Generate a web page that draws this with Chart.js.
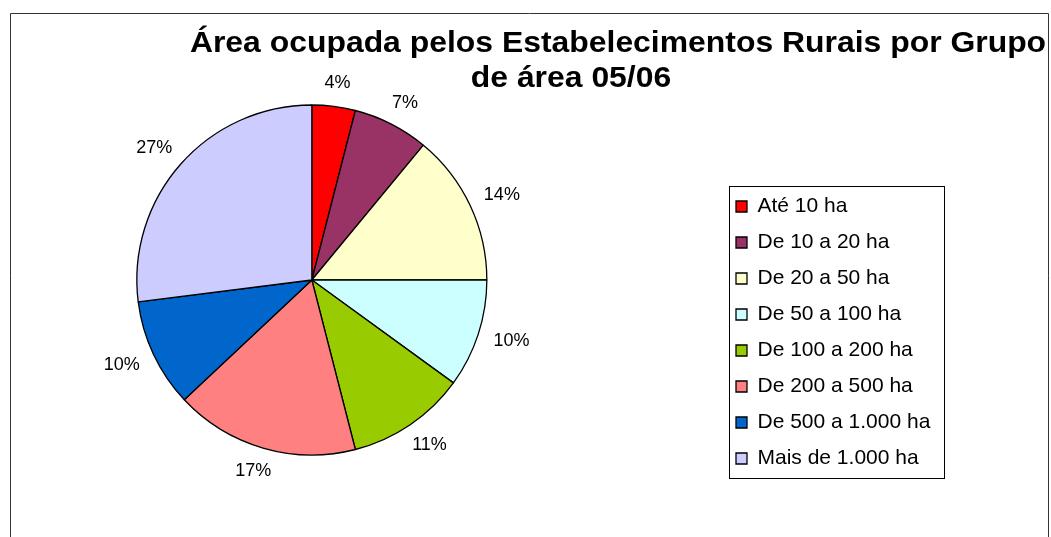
<!DOCTYPE html>
<html lang="pt">
<head>
<meta charset="utf-8">
<title>Área ocupada pelos Estabelecimentos Rurais por Grupo de área 05/06</title>
<script src="https://cdn.jsdelivr.net/npm/chart.js@4.4.0/dist/chart.umd.min.js"></script>
<style>
  html, body { margin: 0; padding: 0; background: #fff; }
  canvas { display: block; }
</style>
</head>
<body>
<canvas id="grafico" width="1051" height="537"></canvas>
<script>
/* Dados do gráfico */
const categorias = [
    "Até 10 ha",
    "De 10 a 20 ha",
    "De 20 a 50 ha",
    "De 50 a 100 ha",
    "De 100 a 200 ha",
    "De 200 a 500 ha",
    "De 500 a 1.000 ha",
    "Mais de 1.000 ha"
];
const percentuais = [4, 7, 14, 10, 11, 17, 10, 27];
const tituloLinhas = ["Área ocupada pelos Estabelecimentos Rurais por Grupo", "de área 05/06"];

const coresFatias = ["#FF0000", "#993366", "#FFFFCC", "#CCFFFF", "#99CC00", "#FF8080", "#0066CC", "#CCCCFF"];
const FONTE = "'Liberation Sans', Arial, sans-serif";

/* Empurra a legenda para a direita sem mexer na área da pizza */
const posicaoLegenda = {
    id: "posicaoLegenda",
    afterLayout(chart) {
        const leg = chart.legend;
        if (!leg) return;
        const dx = 721 - leg.left;
        leg.left += dx;
        leg.right += dx;
    }
};

/* Moldura externa + título (o título do Excel vem levemente esticado) */
const molduraTitulo = {
    id: "molduraTitulo",
    afterDraw(chart) {
        const ctx = chart.ctx;
        ctx.save();
        ctx.fillStyle = "#000";
        ctx.font = "bold 29px " + FONTE;
        ctx.textAlign = "center";
        ctx.textBaseline = "alphabetic";
        const linhas = [[618, 52], [571, 87]];
        tituloLinhas.forEach((txt, i) => {
            ctx.save();
            ctx.translate(linhas[i][0], linhas[i][1]);
            ctx.scale(1.1, 1);
            ctx.fillText(txt, 0, 0);
            ctx.restore();
        });

        ctx.strokeStyle = "#333";
        ctx.lineWidth = 1;
        ctx.beginPath();
        ctx.moveTo(10.5, 540);
        ctx.lineTo(10.5, 13.5);
        ctx.lineTo(1048.5, 13.5);
        ctx.lineTo(1048.5, 540);
        ctx.stroke();
        ctx.restore();
    }
};

/* Caixa em volta da legenda */
const caixaLegenda = {
    id: "caixaLegenda",
    afterDraw(chart) {
        const hb = chart.legend && chart.legend.legendHitBoxes;
        if (!hb || !hb.length) return;
        const ctx = chart.ctx;
        const topo = hb[0].top - 10;
        const esq = hb[0].left - 7;
        const ult = hb[hb.length - 1];
        const base = ult.top + ult.height + 9;
        ctx.save();
        ctx.strokeStyle = "#000";
        ctx.lineWidth = 1;
        ctx.strokeRect(Math.round(esq) + 0.5, Math.round(topo) + 0.5, 215, Math.round(base - topo));
        ctx.restore();
    }
};

/* Rótulos de percentual fora das fatias */
const rotulosFatias = {
    id: "rotulosFatias",
    afterDatasetsDraw(chart) {
        const ctx = chart.ctx;
        const meta = chart.getDatasetMeta(0);
        const valores = chart.data.datasets[0].data;
        ctx.save();
        ctx.font = "18px " + FONTE;
        ctx.fillStyle = "#000";
        ctx.textAlign = "center";
        ctx.textBaseline = "middle";
        meta.data.forEach((arc, i) => {
            const p = arc.getProps(["x", "y", "startAngle", "endAngle", "outerRadius"], true);
            const meio = (p.startAngle + p.endAngle) / 2;
            const texto = valores[i] + "%";
            const larg = ctx.measureText(texto).width;
            const r = p.outerRadius + 17;
            const cx = p.x + Math.cos(meio) * (r + larg / 2);
            const cy = p.y + Math.sin(meio) * (r + 7);
            ctx.fillText(texto, cx, cy);
        });
        ctx.restore();
    }
};

new Chart(document.getElementById("grafico"), {
    type: "pie",
    data: {
        labels: categorias,
        datasets: [{
            data: percentuais,
            backgroundColor: coresFatias,
            borderColor: "#000",
            borderWidth: 1.3,
            radius: 175
        }]
    },
    options: {
        responsive: false,
        animation: false,
        devicePixelRatio: 1,
        layout: {
            padding: { top: 76, bottom: 53, left: 0, right: 208 }
        },
        plugins: {
            title: { display: false },
            tooltip: { enabled: false },
            legend: {
                position: "right",
                align: "end",
                labels: {
                    color: "#000",
                    font: { family: FONTE, size: 21 },
                    boxWidth: 11,
                    boxHeight: 11,
                    padding: 15
                }
            }
        }
    },
    plugins: [posicaoLegenda, rotulosFatias, caixaLegenda, molduraTitulo]
});
</script>
</body>
</html>
